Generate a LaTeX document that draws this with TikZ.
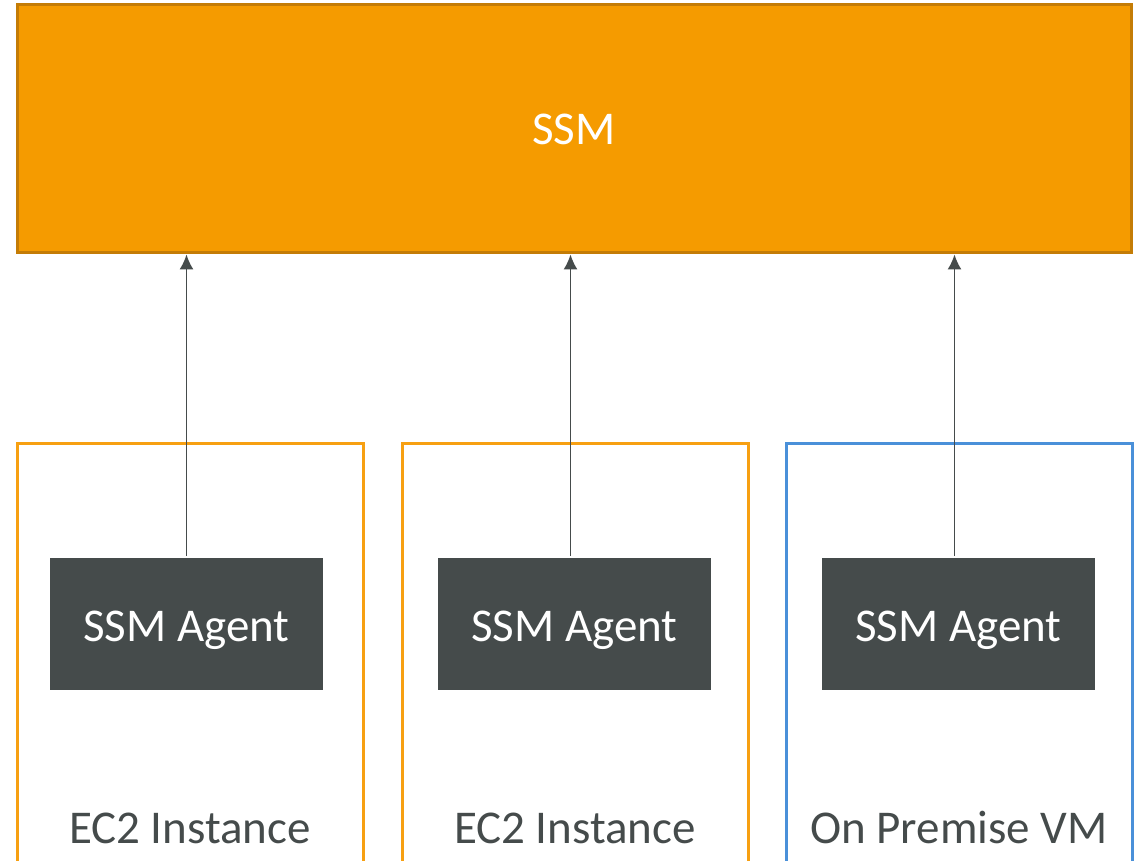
\documentclass[tikz,border=0pt]{standalone}
\usepackage{fontspec}
\setmainfont{Carlito}
\usepackage{xcolor}
\usetikzlibrary{arrows.meta,positioning}

\definecolor{ssmorange}{RGB}{245,155,0}
\definecolor{ssmedge}{RGB}{196,124,6}
\definecolor{ec2edge}{RGB}{247,160,18}
\definecolor{vmedge}{RGB}{74,144,217}
\definecolor{agentgray}{RGB}{69,75,75}

\tikzset{
  ssmbox/.style={draw=ssmedge, fill=ssmorange, line width=1.5pt, text=white,
    minimum width=557pt, minimum height=124pt, inner sep=0pt},
  hostbox/.style={line width=1.5pt, fill=white, minimum width=173pt,
    minimum height=228pt, inner sep=0pt},
  agentbox/.style={fill=agentgray, text=white, minimum width=136.5pt,
    minimum height=66pt, inner sep=0pt, text height=19pt, text depth=2pt},
  hostlabel/.style={text=agentgray, inner sep=0pt},
  agentlink/.style={->, agentgray, line width=0.75pt}
}

\begin{document}
\begin{tikzpicture}[>={Latex[length=7.5pt,width=7pt]}, x=0.5pt, y=-0.5pt,
    font=\fontsize{23.5}{28}\selectfont]
  \clip (0,0) rectangle (1142,861);
  % manager on top
  \node[ssmbox] (ssm) at (574,129) {SSM};
  % the three managed hosts
  \node[hostbox, draw=ec2edge] (hostA) at (190,672) {};
  \node[hostbox, draw=ec2edge] (hostB) at (575,672) {};
  \node[hostbox, draw=vmedge] (hostC) at (959,672) {};
  \node[agentbox] (agentA) at (186.5,624) {SSM Agent};
  \node[agentbox] (agentB) at (574.5,624) {SSM Agent};
  \node[agentbox] (agentC) at (958.5,624) {SSM Agent};
  \node[hostlabel] (labelA) at (190,828) {EC2 Instance};
  \node[hostlabel] (labelB) at (575,828) {EC2 Instance};
  \node[hostlabel] (labelC) at (959,828) {On Premise VM};
  % agents report to SSM
  \draw[agentlink] ([yshift=1pt]agentA.north) -- (agentA.north |- ssm.south);
  \foreach \ag in {agentB,agentC}
    \draw[agentlink] ([xshift=-2pt,yshift=1pt]\ag.north)
      -- ([xshift=-2pt]\ag.north |- ssm.south);
\end{tikzpicture}
\end{document}
